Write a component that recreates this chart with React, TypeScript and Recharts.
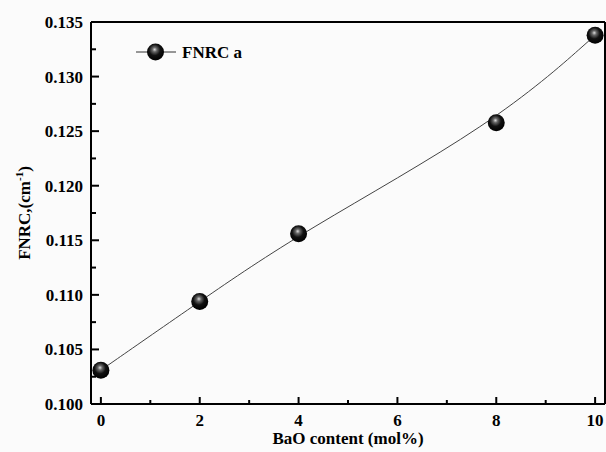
import React from "react";
import { LineChart, Line, XAxis, YAxis, ReferenceLine } from "recharts";

// values
const baoContent = [0, 2, 4, 8, 10];
const fnrcValues = [0.1031, 0.1094, 0.1156, 0.12576, 0.13378];
const seriesName = "FNRC a";

const xTicks = [0, 1, 2, 3, 4, 5, 6, 7, 8, 9, 10];
const xLabelTicks = [0, 2, 4, 6, 8, 10];
const yTicks = [0.1, 0.1025, 0.105, 0.1075, 0.11, 0.1125, 0.115, 0.1175, 0.12, 0.1225, 0.125, 0.1275, 0.13, 0.1325, 0.135];
const yLabelTicks = [0.1, 0.105, 0.11, 0.115, 0.12, 0.125, 0.13, 0.135];

const data = baoContent.map((x, i) => ({ x, fnrc: fnrcValues[i] }));

const FONT = '"Liberation Serif", "Times New Roman", serif';
const TICK_MARGIN = 10;

const isLabelled = (list: number[], v: number) => list.some((t) => Math.abs(t - v) < 1e-9);

const XTick = (props: any) => {
  const { x, y, payload } = props;
  const axisY = y - TICK_MARGIN;
  const major = isLabelled(xLabelTicks, payload.value);
  return (
    <g>
      <line x1={x} x2={x} y1={axisY} y2={axisY - (major ? 7 : 4)} stroke="#000" strokeWidth={2} />
      {major && (
        <text x={x} y={axisY + 22} textAnchor="middle" fontFamily={FONT} fontWeight="bold" fontSize={17} fill="#000">
          {payload.value}
        </text>
      )}
    </g>
  );
};

const YTick = (props: any) => {
  const { x, y, payload } = props;
  const axisX = x + TICK_MARGIN;
  const major = isLabelled(yLabelTicks, payload.value);
  return (
    <g>
      <line x1={axisX} x2={axisX + (major ? 8 : 5)} y1={y} y2={y} stroke="#000" strokeWidth={2} />
      {major && (
        <text x={axisX - 8} y={y + 6} textAnchor="end" fontFamily={FONT} fontWeight="bold" fontSize={17} fill="#000">
          {payload.value.toFixed(3)}
        </text>
      )}
    </g>
  );
};

const YTitle = (props: any) => {
  const { viewBox } = props;
  const cx = 30;
  const cy = viewBox.y + viewBox.height / 2;
  return (
    <text
      x={cx}
      y={cy}
      transform={`rotate(-90, ${cx}, ${cy})`}
      textAnchor="middle"
      fontFamily={FONT}
      fontWeight="bold"
      fontSize={17}
      fill="#000"
    >
      FNRC,(cm<tspan dy={-7} fontSize={11}>-1</tspan>
      <tspan dy={7}>)</tspan>
    </text>
  );
};

const XTitle = (props: any) => {
  const { viewBox } = props;
  return (
    <text
      x={viewBox.x + viewBox.width / 2}
      y={444}
      textAnchor="middle"
      fontFamily={FONT}
      fontWeight="bold"
      fontSize={17}
      fill="#000"
    >
      BaO content (mol%)
    </text>
  );
};

const Ball = (props: any) => {
  const { cx, cy, index } = props;
  if (cx == null || cy == null) return <g key={index} />;
  return <circle key={index} cx={cx} cy={cy} r={8.5} fill="url(#ballFill)" />;
};

const BallGradient = ({ id }: { id: string }) => (
  <radialGradient id={id} cx="45%" cy="40%" r="60%" fx="45%" fy="35%">
    <stop offset="0%" stopColor="#dcdcdc" />
    <stop offset="22%" stopColor="#666" />
    <stop offset="55%" stopColor="#111" />
    <stop offset="100%" stopColor="#000" />
  </radialGradient>
);

export default function App() {
  return (
    <div style={{ position: "absolute", left: 0, top: 0, width: 606, height: 452, background: "#fbfbfb" }}>
      <LineChart width={606} height={452} data={data} margin={{ top: 22, right: 1, left: 0, bottom: 0 }}>
        <defs>
          <BallGradient id="ballFill" />
        </defs>
        <XAxis
          type="number"
          dataKey="x"
          domain={[-0.2, 10.2]}
          ticks={xTicks}
          allowDataOverflow
          height={48}
          tickSize={0}
          tickMargin={TICK_MARGIN}
          tickLine={false}
          axisLine={{ stroke: "#000", strokeWidth: 2 }}
          tick={<XTick />}
          interval={0}
          label={{ content: <XTitle /> }}
        />
        <YAxis
          type="number"
          domain={[0.1, 0.135]}
          ticks={yTicks}
          allowDataOverflow
          width={91}
          tickSize={0}
          tickMargin={TICK_MARGIN}
          tickLine={false}
          axisLine={{ stroke: "#000", strokeWidth: 2 }}
          tick={<YTick />}
          interval={0}
          label={{ content: <YTitle /> }}
        />
        <ReferenceLine y={0.135} stroke="#000" strokeWidth={2} />
        <ReferenceLine x={10.2} stroke="#000" strokeWidth={2} />
        <Line
          type="basis"
          dataKey="fnrc"
          name={seriesName}
          stroke="#444"
          strokeWidth={1}
          dot={<Ball />}
          activeDot={false}
          isAnimationActive={false}
        />
      </LineChart>
      <svg width={140} height={30} style={{ position: "absolute", left: 130, top: 37 }}>
        <defs>
          <BallGradient id="legendBall" />
        </defs>
        <line x1={6} x2={46} y1={15} y2={15} stroke="#333" strokeWidth={1} />
        <circle cx={25.5} cy={15} r={8.5} fill="url(#legendBall)" />
        <text x={52} y={21} fontFamily={FONT} fontWeight="bold" fontSize={17} fill="#000">
          {seriesName}
        </text>
      </svg>
    </div>
  );
}
